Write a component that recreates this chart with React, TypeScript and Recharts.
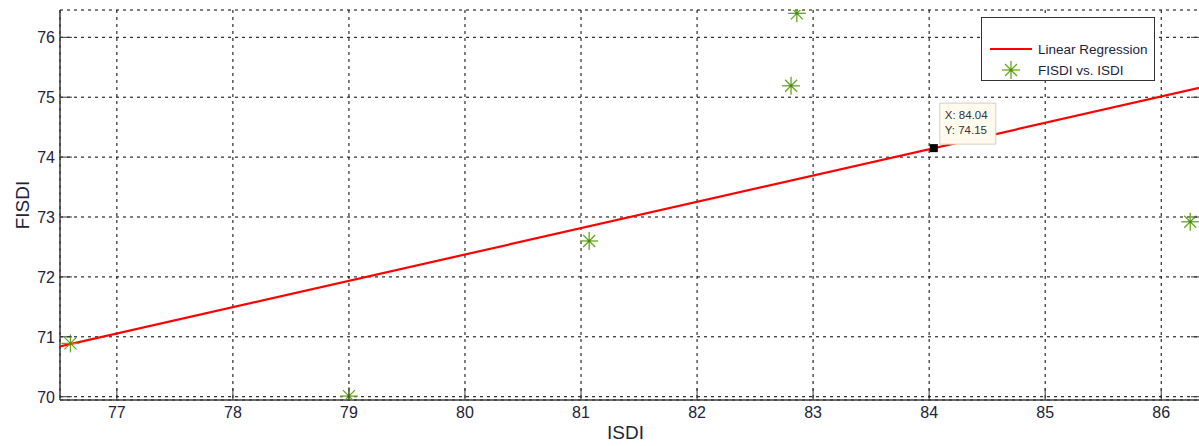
import React from 'react';
import {
  ScatterChart,
  Scatter,
  XAxis,
  YAxis,
  CartesianGrid,
  Legend,
} from 'recharts';

// ISDI (x) vs FISDI (y) samples
const isdi = [76.6, 79.0, 81.07, 82.81, 82.86, 86.25];
const fisdi = [70.89, 70.01, 72.6, 75.19, 76.4, 72.92];

// fitted line end points (across the visible x range)
const regIsdi = [76.51, 86.36];
const regFisdi = [70.84, 75.17];

// data tip
const tipIsdi = [84.04];
const tipFisdi = [74.15];

const xTicks = [77, 78, 79, 80, 81, 82, 83, 84, 85, 86];
const yTicks = [70, 71, 72, 73, 74, 75, 76];

const points = isdi.map((x, i) => ({ x, y: fisdi[i] }));
const regression = regIsdi.map((x, i) => ({ x, y: regFisdi[i] }));
const tip = tipIsdi.map((x, i) => ({ x, y: tipFisdi[i] }));

const FONT = '"Liberation Sans", Arial, sans-serif';
const TEXT = '#23233a';
const AXIS = '#3a3a3a';
const GREEN = '#66a61e';
const TICK_LEN = 12;

function Star({ cx, cy }: any) {
  const r = 9;
  const d = 6;
  return (
    <g stroke={GREEN} strokeWidth={1.3}>
      <line x1={cx - r} y1={cy} x2={cx + r} y2={cy} />
      <line x1={cx} y1={cy - r} x2={cx} y2={cy + r} />
      <line x1={cx - d} y1={cy - d} x2={cx + d} y2={cy + d} />
      <line x1={cx - d} y1={cy + d} x2={cx + d} y2={cy - d} />
      <circle cx={cx} cy={cy} r={1.5} fill="#4f8a10" stroke="none" />
    </g>
  );
}

function DataTip({ cx, cy, payload }: any) {
  return (
    <g>
      <rect x={cx - 4} y={cy - 4} width={8} height={8} fill="#000" />
      <rect
        x={cx + 6}
        y={cy - 45}
        width={56}
        height={41}
        fill="#fffaee"
        stroke="#d6d0c4"
      />
      <text x={cx + 11} y={cy - 29} fontSize={11.5} fontFamily={FONT} fill="#333">
        X: {payload.x.toFixed(2)}
      </text>
      <text x={cx + 11} y={cy - 14} fontSize={11.5} fontFamily={FONT} fill="#333">
        Y: {payload.y.toFixed(2)}
      </text>
    </g>
  );
}

const NoShape = () => <g />;

function BottomTick({ x, y, payload }: any) {
  return (
    <g>
      <line x1={x} x2={x} y1={y} y2={y - TICK_LEN} stroke={AXIS} />
      <text x={x} y={y + 18} textAnchor="middle" fontSize={16} fontFamily={FONT} fill={TEXT}>
        {payload.value}
      </text>
    </g>
  );
}

function TopTick({ x, y }: any) {
  return <line x1={x} x2={x} y1={y} y2={y + TICK_LEN} stroke={AXIS} />;
}

function LeftTick({ x, y, payload }: any) {
  return (
    <g>
      <line x1={x} x2={x + TICK_LEN} y1={y} y2={y} stroke={AXIS} />
      <text x={x - 5} y={y + 6} textAnchor="end" fontSize={16} fontFamily={FONT} fill={TEXT}>
        {payload.value}
      </text>
    </g>
  );
}

function RightTick({ x, y }: any) {
  return <line x1={x} x2={x - TICK_LEN} y1={y} y2={y} stroke={AXIS} />;
}

function LegendBox() {
  return (
    <div
      style={{
        width: 172,
        height: 62,
        border: '1px solid #333',
        background: '#fff',
      }}
    >
      <svg width={172} height={62} style={{ display: 'block' }}>
        <line x1={8} x2={50} y1={31} y2={31} stroke="#ff0000" strokeWidth={2} />
        <text x={56} y={36} fontSize={13.5} fontFamily={FONT} fill={TEXT}>
          Linear Regression
        </text>
        <Star cx={29} cy={52} />
        <text x={56} y={57} fontSize={13.5} fontFamily={FONT} fill={TEXT}>
          FISDI vs. ISDI
        </text>
      </svg>
    </div>
  );
}

export default function App() {
  return (
    <div
      style={{
        position: 'absolute',
        left: 0,
        top: 0,
        width: 1199,
        height: 446,
        overflow: 'hidden',
        background: '#fff',
      }}
    >
      <ScatterChart
        width={1210}
        height={446}
        margin={{ top: 10, right: 0, bottom: 0, left: 0 }}
      >
        <CartesianGrid
          stroke="#000"
          strokeDasharray="3 4"
          strokeWidth={1}
        />
        <XAxis
          type="number"
          dataKey="x"
          domain={[76.51, 86.36]}
          allowDataOverflow
          ticks={xTicks}
          height={46}
          stroke={AXIS}
          strokeWidth={1.5}
          tickLine={false}
          tickSize={0}
          tickMargin={0}
          tick={<BottomTick />}
          label={{
            value: 'ISDI',
            position: 'insideBottom',
            offset: 7,
            dx: -6,
            fontSize: 19,
            fontFamily: FONT,
            fill: TEXT,
          }}
        />
        <XAxis
          xAxisId="top"
          orientation="top"
          type="number"
          domain={[76.51, 86.36]}
          allowDataOverflow
          ticks={xTicks}
          height={0}
          stroke={AXIS}
          strokeWidth={1.5}
          tickLine={false}
          tickSize={0}
          tickMargin={0}
          tick={<TopTick />}
        />
        <YAxis
          type="number"
          dataKey="y"
          domain={[69.945, 76.456]}
          allowDataOverflow
          ticks={yTicks}
          width={60}
          stroke={AXIS}
          strokeWidth={1.5}
          tickLine={false}
          tickSize={0}
          tickMargin={0}
          tick={<LeftTick />}
          label={{
            value: 'FISDI',
            content: ({ viewBox }: any) => (
              <text
                x={22}
                y={viewBox.y + viewBox.height / 2}
                transform={`rotate(-90, 22, ${viewBox.y + viewBox.height / 2})`}
                textAnchor="middle"
                dominantBaseline="central"
                fontSize={19}
                fontFamily={FONT}
                fill={TEXT}
              >
                FISDI
              </text>
            ),
          }}
        />
        <YAxis
          yAxisId="right"
          orientation="right"
          type="number"
          domain={[69.945, 76.456]}
          allowDataOverflow
          ticks={yTicks}
          width={7}
          stroke={AXIS}
          strokeWidth={1.5}
          tickLine={false}
          tickSize={0}
          tickMargin={0}
          tick={<RightTick />}
        />
        <Legend
          layout="vertical"
          align="center"
          verticalAlign="middle"
          wrapperStyle={{ left: 981, top: 17, width: 174 }}
          content={<LegendBox />}
        />
        <Scatter
          name="Linear Regression"
          data={regression}
          line={{ stroke: '#ff0000', strokeWidth: 2.2 }}
          shape={<NoShape />}
          isAnimationActive={false}
        />
        <Scatter
          name="FISDI vs. ISDI"
          data={points}
          shape={<Star />}
          isAnimationActive={false}
        />
        <Scatter
          name="tip"
          data={tip}
          shape={<DataTip />}
          isAnimationActive={false}
          legendType="none"
        />
      </ScatterChart>
    </div>
  );
}
